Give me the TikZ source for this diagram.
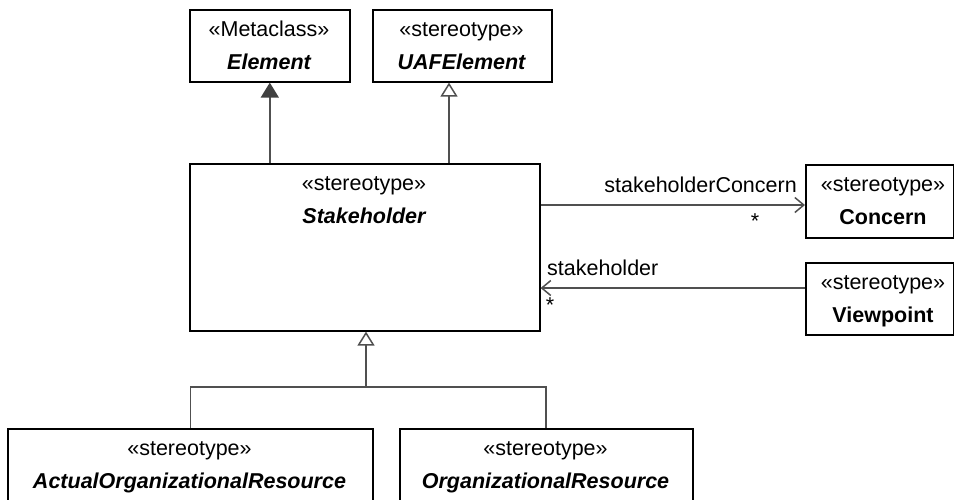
\documentclass[tikz,border=0pt]{standalone}
\usepackage{fontspec}
\setmainfont{Liberation Sans}
\usetikzlibrary{arrows.meta}
\definecolor{conn}{HTML}{505050}
\definecolor{headfill}{HTML}{404040}
\begin{document}
\begin{tikzpicture}[x=1pt,y=-1pt,
  cls/.style={draw=black,line width=1.6pt,rectangle,inner sep=0pt,anchor=north west},
  lbl/.style={inner sep=0pt,anchor=base,font=\fontsize{21.5}{26}\selectfont},
  conline/.style={draw=conn,line width=1.5pt},
  genopen/.style={conline,-{Triangle[open,length=14pt,width=17pt,fill=white]}},
  genfill/.style={conline,-{Triangle[length=15pt,width=18pt,fill=headfill,color=headfill]}},
  nav/.style={conline,-{Straight Barb[length=9pt,width=15pt]}}]
\useasboundingbox (0,0) rectangle (954,499);
\clip (0,0) rectangle (954,499);
% boxes
\node[cls,minimum width=160pt,minimum height=72pt] (el) at (189,9) {};
\node[cls,minimum width=179pt,minimum height=72pt] (uaf) at (372,9) {};
\node[cls,minimum width=350pt,minimum height=167pt] (sh) at (189,163) {};
\node[cls,minimum width=148pt,minimum height=73pt] (con) at (805,164) {};
\node[cls,minimum width=148pt,minimum height=72pt] (vp) at (805,262) {};
\node[cls,minimum width=365pt,minimum height=100pt] (aor) at (7,428) {};
\node[cls,minimum width=293pt,minimum height=100pt] (org) at (399,428) {};
% texts
\node[lbl] (elS) at (269,36) {«Metaclass»};
\node[lbl] (elN) at (269,69) {\bfseries\itshape Element};
\node[lbl] (uafS) at (461.5,36) {«stereotype»};
\node[lbl] (uafN) at (461.5,69) {\bfseries\itshape UAFElement};
\node[lbl] (shS) at (364,190) {«stereotype»};
\node[lbl] (shN) at (364,223) {\bfseries\itshape Stakeholder};
\node[lbl] (conS) at (883,191) {«stereotype»};
\node[lbl] (conN) at (883,224) {\bfseries Concern};
\node[lbl] (vpS) at (883,289) {«stereotype»};
\node[lbl] (vpN) at (883,322) {\bfseries Viewpoint};
\node[lbl] (aorS) at (189.5,455) {«stereotype»};
\node[lbl] (aorN) at (189.5,488) {\bfseries\itshape ActualOrganizationalResource};
\node[lbl] (orgS) at (545.5,455) {«stereotype»};
\node[lbl] (orgN) at (545.5,488) {\bfseries\itshape OrganizationalResource};
% generalizations
\draw[genfill] (el.south |- sh.north) -- (el.south);
\draw[genopen] (449,0 |- sh.north) -- (449,0 |- uaf.south);
\coordinate (j) at (366,387);
\draw[conline] (aor.north) |- (j) -| (546,0 |- org.north);
\draw[genopen] (j) -- (366,0 |- sh.south);
% associations
\draw[nav] (sh.east |- 0,205) -- (con.west |- 0,205);
\draw[nav] (vp.west |- 0,288) -- (sh.east |- 0,288);
\node[lbl,anchor=base east] (lc) at (797,192) {stakeholderConcern};
\node[lbl,anchor=center] (sc) at (755,221) {*};
\node[lbl,anchor=base west] (ls) at (547,275) {stakeholder};
\node[lbl,anchor=center] (ss) at (550,305) {*};
\end{tikzpicture}
\end{document}
